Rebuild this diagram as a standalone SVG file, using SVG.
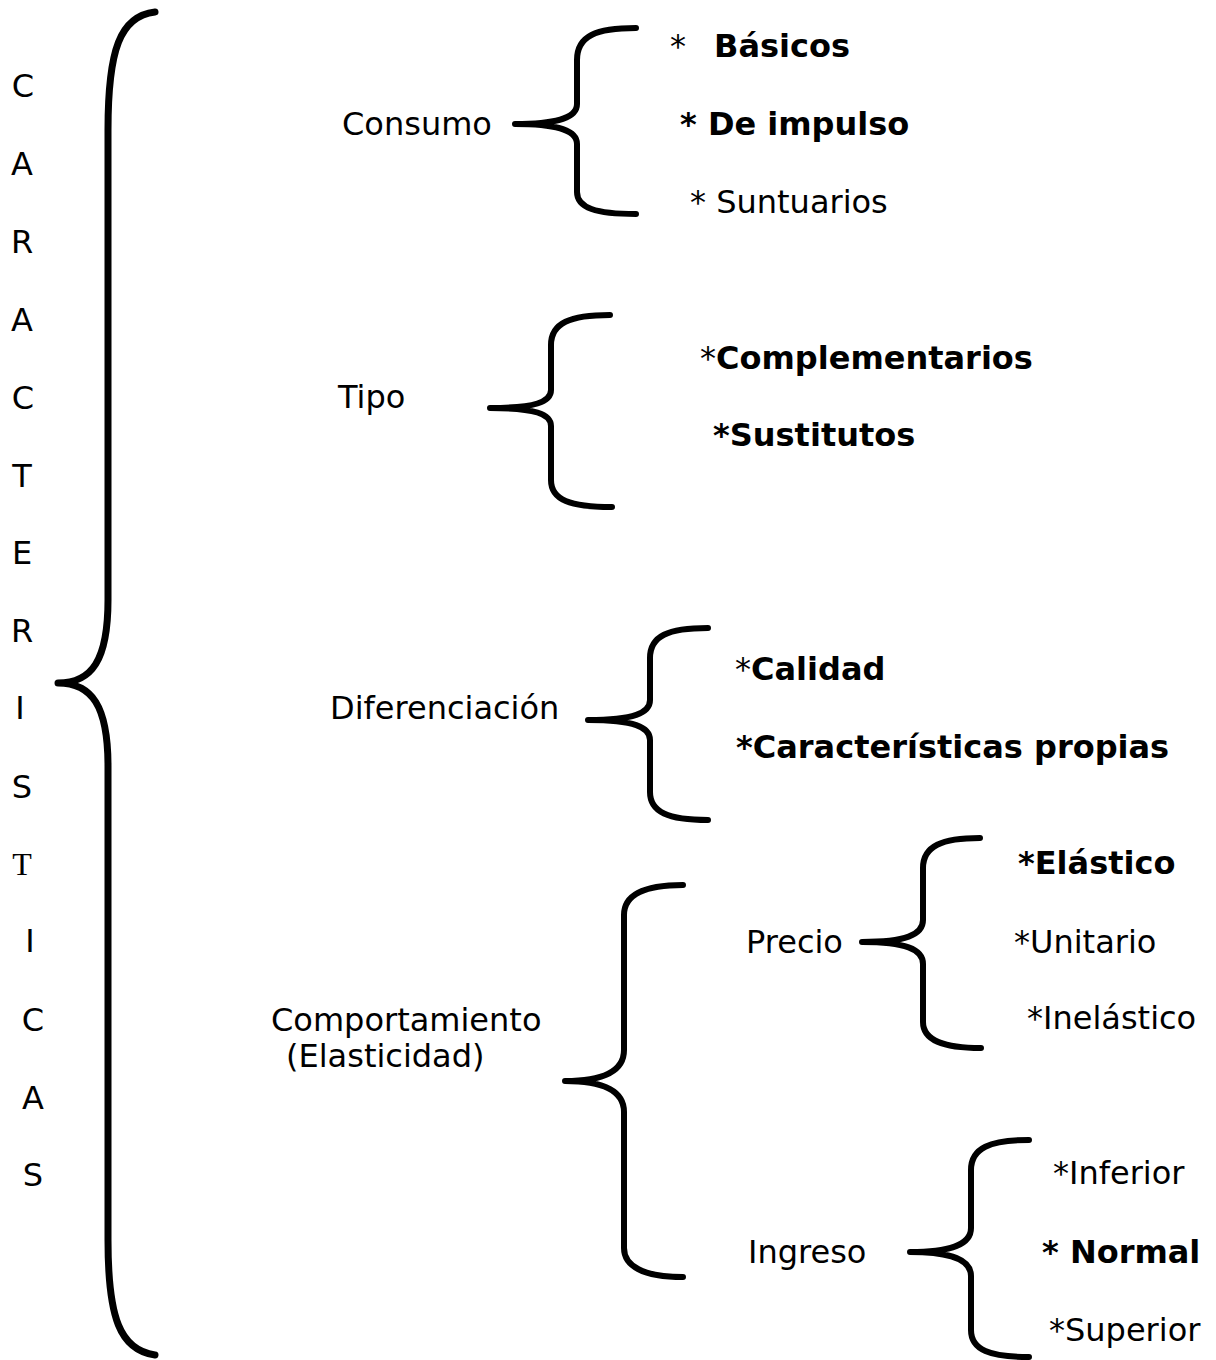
<svg xmlns="http://www.w3.org/2000/svg" width="1216" height="1360" viewBox="0 0 1216 1360">
<style>
text{font-family:"DejaVu Sans","Verdana",sans-serif;font-size:32px;fill:#000}
.b{font-weight:bold}
.ser{font-family:"Liberation Serif",serif}
.br{fill:none;stroke:#000;stroke-width:6;stroke-linecap:round;stroke-linejoin:round}
.big{stroke-width:7}
</style>
<rect width="1216" height="1360" fill="#fff"/>
<g id="title">
<text x="23" y="97" text-anchor="middle">C</text>
<text x="22" y="175" text-anchor="middle">A</text>
<text x="22" y="253" text-anchor="middle">R</text>
<text x="22" y="331" text-anchor="middle">A</text>
<text x="23" y="409" text-anchor="middle">C</text>
<text x="22" y="487" text-anchor="middle">T</text>
<text x="22" y="564" text-anchor="middle">E</text>
<text x="22" y="642" text-anchor="middle">R</text>
<text x="20" y="719" text-anchor="middle">I</text>
<text x="22" y="798" text-anchor="middle">S</text>
<text x="22" y="875" text-anchor="middle" class="ser">T</text>
<text x="30" y="952" text-anchor="middle">I</text>
<text x="33" y="1031" text-anchor="middle">C</text>
<text x="33" y="1109" text-anchor="middle">A</text>
<text x="33" y="1186" text-anchor="middle">S</text>
</g>
<g id="connectors">
<path class="br big" d="M155,12 C120,16 108,50 108,130 L108,600 C108,660 92,683 58,683 C92,683 108,706 108,766 L108,1240 C108,1318 120,1350 155,1355"/>
<path class="br" d="M636,28 C596,28 577,36 577,60 L577,104 C577,117 560,124 515,124 C560,124 577,131 577,144 L577,192 C577,208 596,214 636,214"/>
<path class="br" d="M610,315 C570,315 551,323 551,345 L551,390 C551,402 535,408 490,408 C535,408 551,414 551,426 L551,480 C551,500 570,507 612,507"/>
<path class="br" d="M708,628 C668,628 650,636 650,658 L650,700 C650,713 634,720 588,720 C634,720 650,727 650,740 L650,792 C650,812 668,820 708,820"/>
<path class="br" d="M683,885 C643,885 624,895 624,915 L624,1050 C624,1070 605,1081 565,1081 C605,1081 624,1092 624,1112 L624,1248 C624,1266 643,1277 683,1277"/>
<path class="br" d="M980,838 C942,838 923,846 923,868 L923,920 C923,935 905,942 862,942 C905,942 923,949 923,964 L923,1022 C923,1040 942,1048 981,1048"/>
<path class="br" d="M1029,1140 C990,1140 971,1148 971,1170 L971,1228 C971,1244 953,1252 910,1252 C953,1252 971,1260 971,1276 L971,1330 C971,1350 990,1357 1029,1357"/>
</g>
<g id="consumo"><text x="342" y="135">Consumo</text></g>
<g id="basicos"><text x="670" y="57">*<tspan class="b" x="714">Básicos</tspan></text></g>
<g id="impulso"><text x="680" y="135" class="b">* De impulso</text></g>
<g id="suntuarios"><text x="690" y="213">* Suntuarios</text></g>
<g id="tipo"><text x="338" y="408">Tipo</text></g>
<g id="complementarios"><text x="700" y="369">*<tspan class="b">Complementarios</tspan></text></g>
<g id="sustitutos"><text x="713" y="446" class="b">*Sustitutos</text></g>
<g id="diferenciacion"><text x="330" y="719">Diferenciación</text></g>
<g id="calidad"><text x="735" y="680">*<tspan class="b">Calidad</tspan></text></g>
<g id="caracteristicas"><text x="736" y="758" class="b">*Características propias</text></g>
<g id="comportamiento"><text x="271" y="1031">Comportamiento</text><text x="286" y="1067">(Elasticidad)</text></g>
<g id="precio"><text x="746" y="953">Precio</text></g>
<g id="elastico"><text x="1018" y="874" class="b">*Elástico</text></g>
<g id="unitario"><text x="1014" y="953">*Unitario</text></g>
<g id="inelastico"><text x="1027" y="1029">*Inelástico</text></g>
<g id="ingreso"><text x="748" y="1263">Ingreso</text></g>
<g id="inferior"><text x="1053" y="1184">*Inferior</text></g>
<g id="normal"><text x="1042" y="1263" class="b">* Normal</text></g>
<g id="superior"><text x="1049" y="1341">*Superior</text></g>
</svg>
